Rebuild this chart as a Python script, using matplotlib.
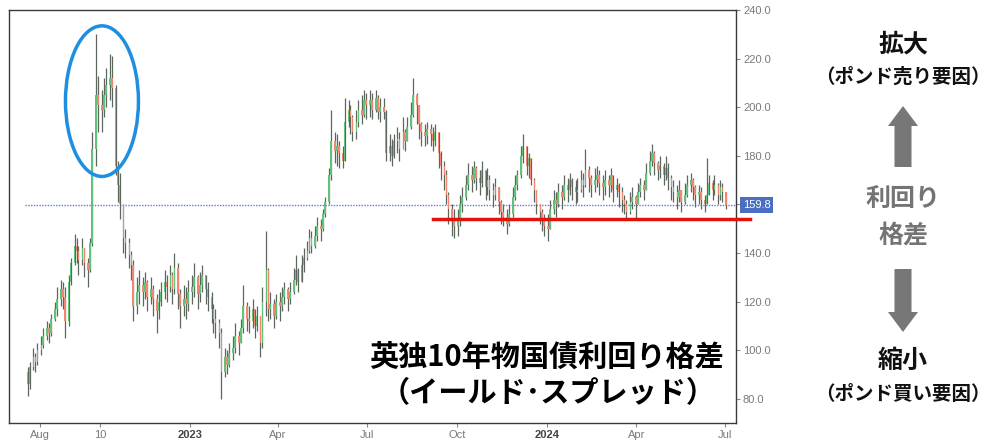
import numpy as np
import pandas as pd
import matplotlib
matplotlib.use("Agg")
import matplotlib.pyplot as plt
import matplotlib.dates as mdates
from matplotlib.patches import Ellipse, FancyArrow

plt.rcParams['font.family'] = ['Noto Sans CJK JP', 'DejaVu Sans']

# 2-business-day candles, UK-German 10y spread (bp), Jul 2022 - Jul 2024
first_open = 91
close = [
    86, 93, 97, 95, 100,                                   # Jul 22
    102, 106, 109, 107, 113, 117, 121, 125, 122, 112, 128,  # Aug
    136, 143, 141, 137, 142, 136, 133, 144, 183, 205, 201,  # Sep
    199, 205, 209, 212, 208, 176, 168, 160, 146, 144, 139,  # Oct
    135, 118, 124, 127, 124, 128, 122, 125, 121, 116, 120,  # Nov
    124, 128, 126, 131, 125, 134, 123, 118, 121, 119, 124,  # Dec
    126, 130, 123, 127, 131, 125, 122, 117, 113, 111, 107,  # Jan 23
    91, 97, 94, 99, 101, 106, 103, 109, 118, 113,           # Feb
    112, 117, 110, 114, 103, 120, 133, 117, 119, 114, 120,  # Mar
    118, 122, 125, 121, 124, 129, 133, 128, 135, 138,       # Apr
    141, 146, 143, 147, 151, 150, 156, 161, 172, 186, 182, 184,  # May
    181, 178, 194, 199, 196, 190, 194, 199, 197, 203, 201,  # Jun
    203, 199, 204, 198, 200, 198, 181, 184, 180, 186,       # Jul
    187, 183, 190, 186, 192, 197, 205, 201, 193, 190, 188, 191,  # Aug
    189, 186, 190, 181, 176, 172, 164, 158, 154, 151,       # Sep
    153, 160, 163, 168, 172, 170, 175, 171, 169, 174, 167,  # Oct
    170, 166, 164, 167, 161, 157, 155, 152, 156, 163, 168,  # Nov
    172, 180, 184, 176, 179, 170, 166, 160, 157, 153, 151,  # Dec
    150, 158, 162, 160, 165, 163, 168, 166, 170, 167, 165,  # Jan 24
    166, 170, 168, 174, 171, 168, 170, 172, 169, 167, 170,  # Feb
    168, 172, 166, 168, 165, 162, 160, 157, 161, 163,       # Mar
    160, 165, 168, 166, 173, 178, 181, 177, 174, 176, 172,  # Apr
    175, 171, 167, 165, 163, 166, 161, 164, 168, 170, 167, 164,  # May
    165, 162, 160, 164, 169, 166, 168, 164, 167, 165,       # Jun
    159.8,                                                  # Jul
]
high = [
    93, 95, 101, 99, 103,
    106, 109, 112, 111, 115, 120, 126, 129, 128, 126, 131,
    138, 148, 146, 143, 146, 142, 138, 146, 190, 230, 213,
    207, 212, 216, 222, 221, 209, 178, 173, 157, 150, 146,
    141, 137, 130, 133, 130, 132, 129, 130, 127, 123, 125,
    128, 133, 131, 135, 132, 140, 136, 125, 127, 126, 129,
    131, 136, 131, 132, 135, 131, 128, 124, 119, 117, 113,
    109, 101, 100, 103, 106, 111, 108, 113, 127, 120,
    118, 121, 117, 118, 113, 126, 149, 134, 124, 121, 123,
    124, 126, 128, 126, 128, 134, 139, 134, 139, 142,
    145, 150, 149, 151, 155, 154, 158, 163, 175, 199, 190, 189,
    186, 184, 204, 203, 201, 197, 199, 203, 205, 207, 206,
    207, 206, 207, 205, 204, 204, 199, 189, 187, 189,
    192, 190, 196, 191, 196, 202, 212, 206, 201, 194, 193, 194,
    193, 192, 193, 186, 182, 178, 174, 165, 160, 158,
    158, 164, 167, 172, 177, 176, 178, 176, 174, 178, 173,
    175, 172, 169, 171, 166, 162, 160, 158, 160, 167, 172,
    174, 184, 189, 183, 181, 178, 171, 165, 160, 158, 156,
    156, 162, 166, 165, 169, 168, 172, 171, 173, 171, 170,
    171, 174, 173, 183, 176, 172, 175, 176, 174, 172, 174,
    172, 175, 172, 171, 169, 167, 164, 162, 165, 167,
    164, 169, 171, 170, 177, 182, 185, 182, 178, 180, 177,
    180, 177, 172, 170, 168, 170, 166, 169, 172, 173, 171, 168,
    168, 167, 164, 179, 172, 170, 172, 169, 170, 169,
    163,
]
low = [
    81, 84, 92, 91, 94,
    98, 101, 104, 103, 106, 112, 114, 118, 117, 105, 110,
    127, 135, 136, 131, 135, 130, 126, 132, 143, 176, 190,
    190, 196, 200, 203, 200, 172, 161, 154, 140, 138, 134,
    129, 112, 115, 119, 118, 121, 116, 119, 114, 107, 113,
    118, 121, 120, 124, 119, 123, 117, 109, 114, 113, 116,
    119, 122, 117, 120, 124, 119, 116, 111, 107, 105, 101,
    80, 89, 90, 93, 96, 99, 98, 103, 107, 108,
    107, 109, 105, 108, 97, 101, 114, 112, 113, 109, 113,
    112, 116, 119, 116, 119, 123, 127, 124, 128, 132,
    137, 140, 140, 142, 145, 145, 149, 155, 160, 170, 177, 176,
    175, 175, 180, 192, 189, 186, 187, 192, 193, 196, 195,
    196, 195, 198, 195, 194, 195, 178, 178, 176, 179,
    181, 178, 183, 182, 186, 191, 196, 193, 187, 184, 184, 185,
    184, 182, 184, 175, 170, 166, 160, 152, 147, 146,
    147, 151, 157, 162, 166, 165, 169, 166, 164, 167, 162,
    164, 162, 159, 162, 156, 152, 151, 148, 151, 155, 162,
    166, 171, 177, 172, 171, 168, 161, 156, 152, 149, 147,
    145, 150, 156, 155, 159, 158, 162, 161, 164, 162, 160,
    161, 165, 163, 167, 165, 163, 165, 167, 164, 162, 164,
    163, 165, 161, 163, 159, 157, 156, 154, 156, 158,
    154, 160, 163, 162, 166, 172, 176, 172, 170, 171, 168,
    170, 166, 162, 161, 158, 161, 157, 160, 163, 165, 162, 159,
    160, 158, 157, 160, 164, 162, 164, 160, 162, 161,
    158,
]
last_value = 159.8
support_level = 154

tick_dates = ["2022-08-01", "2022-10-01", "2023-01-01", "2023-04-01", "2023-07-01",
              "2023-10-01", "2024-01-01", "2024-04-01", "2024-07-01"]
tick_labels = ["Aug", "10", "2023", "Apr", "Jul", "Oct", "2024", "Apr", "Jul"]
y_ticks = [80, 100, 120, 140, 160, 180, 200, 220, 240]

assert len(close) == len(high) == len(low)
c = np.array(close, dtype=float)
o = np.concatenate([[first_open], c[:-1]])
hi = np.maximum(np.array(high, float), np.maximum(o, c))
lo = np.minimum(np.array(low, float), np.minimum(o, c))
dates = pd.bdate_range("2022-07-19", periods=2 * len(c))[::2]
x = mdates.date2num(dates)

fig = plt.figure(figsize=(10, 4.45), dpi=100)
ax = fig.add_axes([0.009, 0.0494, 0.727, 0.928])

ax.vlines(x, lo, hi, color="#5d675d", lw=0.9, zorder=2)
up = c >= o
ax.bar(x[up], (c - o)[up], bottom=o[up], width=1.6, color="#62c27a", lw=0, zorder=3)
ax.bar(x[~up], (o - c)[~up], bottom=c[~up], width=1.6, color="#f2866f", lw=0, zorder=3)

x0 = mdates.date2num(pd.Timestamp("2022-06-30"))
x1 = mdates.date2num(pd.Timestamp("2024-07-12"))
ax.set_xlim(x0, x1)
ax.set_ylim(70, 240)

# last value line + label
ax.hlines(last_value, x[0] - 3, x1, colors="#5b7bd5", linestyles=(0, (1, 1)), lw=1, zorder=1)
ax.annotate(f"{last_value:.1f}", xy=(1.0, last_value), xycoords=("axes fraction", "data"),
            xytext=(5, 0), textcoords="offset points", ha="left", va="center",
            color="white", fontsize=8, family=["Liberation Sans"], annotation_clip=False,
            bbox=dict(boxstyle="square,pad=0.25", fc="#4a6fc2", ec="none"))

# support line
ax.plot([mdates.date2num(pd.Timestamp("2023-09-06")), mdates.date2num(pd.Timestamp("2024-07-26"))],
        [support_level, support_level], color="#e3120b", lw=2.5, clip_on=False, zorder=5)

# circle the spike
ax.add_patch(Ellipse((mdates.date2num(pd.Timestamp("2022-10-03")), 202.5), 74.6, 62,
                     fill=False, ec="#1e8fe0", lw=2.5, zorder=6))

ax.yaxis.tick_right()
ax.set_yticks(y_ticks)
ax.set_yticklabels([f"{v:.1f}" for v in y_ticks], family=["Liberation Sans"], fontsize=8, color="#7a7a7a")
ax.set_xticks(mdates.date2num(pd.to_datetime(tick_dates)))
ax.set_xticklabels(tick_labels, family=["Liberation Sans"], fontsize=8, color="#7a7a7a")
for lab in ax.get_xticklabels():
    if lab.get_text() in ("2023", "2024"):
        lab.set_color("#444444")
        lab.set_fontweight("bold")
ax.tick_params(axis="both", length=3, color="#888888", pad=2)
for sp in ax.spines.values():
    sp.set_color("#3a3a3a")
    sp.set_linewidth(1)

ax.text(0.983, 0.16, "英独10年物国債利回り格差", transform=ax.transAxes, ha="right", va="center",
        fontsize=21, fontweight="bold", color="black", zorder=7)
ax.text(0.741, 0.072, "（イールド･スプレッド）", transform=ax.transAxes, ha="center", va="center",
        fontsize=21, fontweight="bold", color="black", zorder=7)

# right-hand notes in pixel coordinates
ov = fig.add_axes([0, 0, 1, 1], facecolor="none")
ov.set_xlim(0, 1000)
ov.set_ylim(445, 0)
ov.axis("off")
cx = 903
ov.text(cx, 44, "拡大", ha="center", va="center", fontsize=18, fontweight="bold", color="#111111")
ov.text(cx, 77, "（ポンド売り要因）", ha="center", va="center", fontsize=14, fontweight="bold", color="#111111")
ov.add_patch(FancyArrow(cx, 167, 0, -61, width=17, head_width=30, head_length=20,
                        length_includes_head=True, color="#777777", lw=0))
ov.text(cx, 199, "利回り", ha="center", va="center", fontsize=18, fontweight="bold", color="#747474")
ov.text(cx, 236, "格差", ha="center", va="center", fontsize=18, fontweight="bold", color="#747474")
ov.add_patch(FancyArrow(cx, 269, 0, 63, width=17, head_width=30, head_length=20,
                        length_includes_head=True, color="#777777", lw=0))
ov.text(cx, 361, "縮小", ha="center", va="center", fontsize=18, fontweight="bold", color="#111111")
ov.text(cx, 395, "（ポンド買い要因）", ha="center", va="center", fontsize=14, fontweight="bold", color="#111111")

fig.savefig("out.png", dpi=100, facecolor="white")
